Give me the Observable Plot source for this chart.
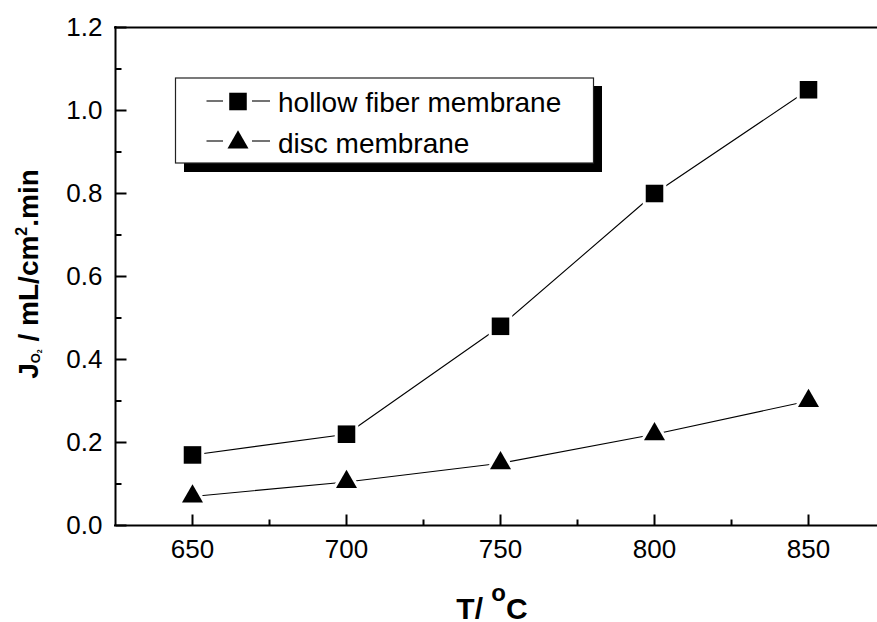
<!DOCTYPE html>
<html>
<head>
<meta charset="utf-8">
<script src="https://cdn.jsdelivr.net/npm/d3@7"></script>
<script src="https://cdn.jsdelivr.net/npm/@observablehq/plot@0.6"></script>
<style>
  html, body { margin: 0; padding: 0; background: #fff; }
  svg { display: block; }
</style>
</head>
<body>
<div id="chart"></div>
<script>
// Oxygen permeation flux vs. temperature
const temperatures = [650, 700, 750, 800, 850];
const hollowFiberFlux = [0.17, 0.22, 0.48, 0.80, 1.05];
const discFlux = [0.07, 0.105, 0.15, 0.22, 0.30];
const seriesNames = ["hollow fiber membrane", "disc membrane"];

const xMajorTicks = [650, 700, 750, 800, 850];
const xMinorTicks = [675, 725, 775, 825];
const yMajorTicks = [0.0, 0.2, 0.4, 0.6, 0.8, 1.0, 1.2];
const yMinorTicks = [0.1, 0.3, 0.5, 0.7, 0.9, 1.1];

const hollowRows = temperatures.map((t, i) => ({T: t, J: hollowFiberFlux[i], series: seriesNames[0]}));
const discRows = temperatures.map((t, i) => ({T: t, J: discFlux[i], series: seriesNames[1]}));

// inward-pointing tick shapes
const rightTick = len => ({draw(c) { c.moveTo(0, 0); c.lineTo(len, 0); }});
const upTick = len => ({draw(c) { c.moveTo(0, 0); c.lineTo(0, -len); }});

const FONT = "'Liberation Sans', Arial, Helvetica, sans-serif";
const squareR = 9.9;
const triangleR = 7.8;

const markerStyle = {fill: "black", stroke: "white", strokeWidth: 6, paintOrder: "stroke"};

const chart = Plot.plot({
  width: 877,
  height: 622,
  marginLeft: 115,
  marginRight: 0,
  marginTop: 27,
  marginBottom: 97,
  style: {fontFamily: FONT, fontSize: "26px", color: "black", background: "white"},
  x: {domain: [625, 872.4]},
  y: {domain: [0, 1.2]},
  marks: [
    // frame lines: left, bottom, top
    Plot.ruleX([625], {stroke: "black", strokeWidth: 2, strokeLinecap: "square"}),
    Plot.ruleY([0, 1.2], {stroke: "black", strokeWidth: 2, strokeLinecap: "square"}),

    // ticks
    Plot.dot(yMajorTicks, {y: d => d, frameAnchor: "left", symbol: rightTick(11), fill: "none", stroke: "black", strokeWidth: 2}),
    Plot.dot(yMinorTicks, {y: d => d, frameAnchor: "left", symbol: rightTick(6), fill: "none", stroke: "black", strokeWidth: 2}),
    Plot.dot(xMajorTicks, {x: d => d, frameAnchor: "bottom", symbol: upTick(11), fill: "none", stroke: "black", strokeWidth: 2}),
    Plot.dot(xMinorTicks, {x: d => d, frameAnchor: "bottom", symbol: upTick(6), fill: "none", stroke: "black", strokeWidth: 2}),

    // tick labels
    Plot.axisY({ticks: yMajorTicks, tickSize: 0, tickPadding: 13, tickFormat: d3.format(".1f"), fontSize: 26, label: null}),
    Plot.axisX({ticks: xMajorTicks, tickSize: 0, tickPadding: 14, tickFormat: d3.format("d"), fontSize: 26, label: null}),

    // series
    Plot.line(hollowRows, {x: "T", y: "J", stroke: "black", strokeWidth: 1.1}),
    Plot.line(discRows, {x: "T", y: "J", stroke: "black", strokeWidth: 1.1}),
    Plot.dot(hollowRows, {x: "T", y: "J", symbol: "square", r: squareR, ...markerStyle}),
    Plot.dot(discRows, {x: "T", y: "J", symbol: "triangle", r: triangleR, ...markerStyle})
  ]
});

document.getElementById("chart").appendChild(chart);

const svg = d3.select(chart);

// Legend box with drop shadow
const legend = svg.append("g").attr("text-anchor", "start");
legend.append("rect").attr("x", 184).attr("y", 86).attr("width", 418).attr("height", 86).attr("fill", "black");
legend.append("rect").attr("x", 175.5).attr("y", 78).attr("width", 418).attr("height", 85)
  .attr("fill", "white").attr("stroke", "#222").attr("stroke-width", 1.2);

const legendRows = [
  {name: seriesNames[0], symbol: d3.symbolSquare, r: squareR, cy: 101.5, lineY: 101, baseline: 112},
  {name: seriesNames[1], symbol: d3.symbolTriangle, r: triangleR, cy: 142.5, lineY: 141, baseline: 152.5}
];
legendRows.forEach(row => {
  legend.append("line").attr("x1", 206.5).attr("x2", 223).attr("y1", row.lineY).attr("y2", row.lineY)
    .attr("stroke", "black").attr("stroke-width", 1.1);
  legend.append("line").attr("x1", 252).attr("x2", 270).attr("y1", row.lineY).attr("y2", row.lineY)
    .attr("stroke", "black").attr("stroke-width", 1.1);
  legend.append("path")
    .attr("d", d3.symbol(row.symbol, Math.PI * row.r * row.r)())
    .attr("transform", `translate(238,${row.cy})`)
    .attr("fill", "black");
  legend.append("text").attr("x", 278).attr("y", row.baseline)
    .attr("text-anchor", "start")
    .attr("font-family", FONT).attr("font-size", 28).attr("fill", "black")
    .text(row.name);
});

// y-axis title: J_{O2} / mL/cm2.min
const yTitle = svg.append("text")
  .attr("transform", "translate(38,274) rotate(-90)")
  .attr("text-anchor", "middle")
  .attr("font-family", FONT).attr("font-weight", "bold").attr("font-size", 28).attr("fill", "black");
yTitle.append("tspan").text("J");
yTitle.append("tspan").attr("font-size", 13).attr("dy", 2).text("O");
yTitle.append("tspan").attr("font-size", 7).attr("dy", 2).text("2");
yTitle.append("tspan").attr("dy", -4).text(" / mL/cm");
yTitle.append("tspan").attr("font-size", 16).attr("dy", -11).text("2");
yTitle.append("tspan").attr("dy", 11).text(".min");

// x-axis title: T / oC
const xTitle = svg.append("text")
  .attr("x", 492).attr("y", 619)
  .attr("text-anchor", "middle")
  .attr("font-family", FONT).attr("font-weight", "bold").attr("font-size", 30).attr("fill", "black");
xTitle.append("tspan").text("T/ ");
xTitle.append("tspan").attr("font-size", 24).attr("dy", -18).text("o");
xTitle.append("tspan").attr("dy", 18).text("C");
</script>
</body>
</html>
